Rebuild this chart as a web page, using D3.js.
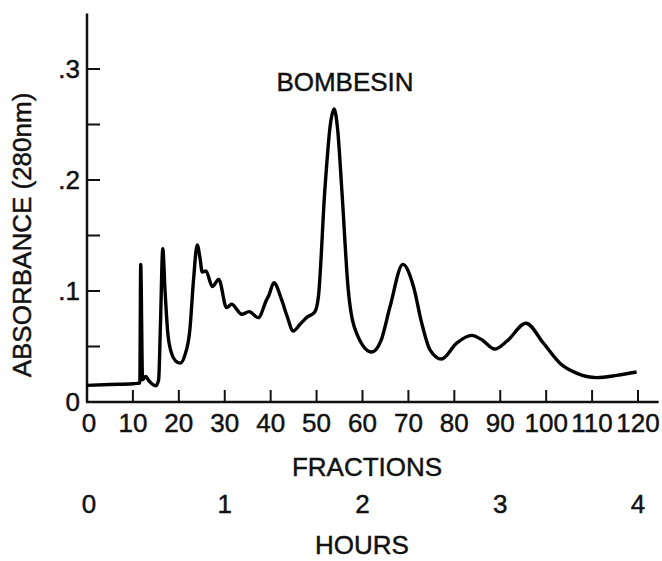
<!DOCTYPE html>
<html>
<head>
<meta charset="utf-8">
<script src="https://cdn.jsdelivr.net/npm/d3@7"></script>
<style>
  body { margin: 0; background: #fff; }
  svg text { font-family: "Liberation Sans", Arial, Helvetica, sans-serif; fill: #111; stroke: #111; stroke-width: 0.45px; }
</style>
</head>
<body>
<svg id="chart" width="662" height="561"></svg>
<script>
// fraction number vs absorbance at 280nm
var fractions = [0, 5, 10, 11.5, 11.7, 12.1, 12.8, 13.5, 15.0, 15.6, 16.0, 16.5, 17.0, 17.6, 18.4, 19.3, 20.3,
    21.3, 22.4, 23.2, 24.0, 24.6, 25.1, 25.9, 27.3, 28.7, 30.4, 31.5, 33.7, 35.3, 37.3, 39.1, 39.6,
    40.7, 42.4, 43.6, 44.9, 46.4, 47.8, 49.6, 50.4, 51.8, 53.0, 53.8, 54.6, 55.5, 56.9, 58.7, 62.0,
    64.0, 66.0, 68.8, 71.1, 72.9, 74.7, 77.2, 80.5, 83.8, 86.0, 88.8, 91.5, 95.6, 99.4, 103.0,
    106.6, 111.0, 115.4, 119.7];
var absorbance = [0.015, 0.0158, 0.0165, 0.017, 0.124, 0.02, 0.023, 0.019, 0.0147, 0.02, 0.07, 0.138,
    0.1, 0.062, 0.044, 0.037, 0.035, 0.042, 0.065, 0.11, 0.1415, 0.13, 0.117, 0.118, 0.104, 0.1105, 0.085,
    0.088, 0.079, 0.0814, 0.076, 0.092, 0.096, 0.1075, 0.092, 0.077, 0.064, 0.070, 0.076, 0.081,
    0.095, 0.191, 0.25, 0.264, 0.245, 0.191, 0.101, 0.062, 0.045, 0.055, 0.086, 0.124, 0.104, 0.071,
    0.047, 0.0387, 0.053, 0.060, 0.056, 0.0477, 0.055, 0.071, 0.053, 0.035, 0.026, 0.022, 0.024, 0.027];

var fractionTicks = [10, 20, 30, 40, 50, 60, 70, 80, 90, 100, 110, 120],
    fractionLabels = [0, 10, 20, 30, 40, 50, 60, 70, 80, 90, 100, 110, 120],
    absTicks = [0.05, 0.1, 0.15, 0.2, 0.25, 0.3],
    absLabels = [0, 0.1, 0.2, 0.3],
    hourLabels = [0, 1, 2, 3, 4],
    fractionsPerHour = 30;

var svg = d3.select("#chart");

var x = d3.scaleLinear().domain([0, 120]).range([87, 638]),
    y = d3.scaleLinear().domain([0, 0.35]).range([402, 13.5]);

var axisColor = "#111";

// axes lines
svg.append("line")
    .attr("x1", x(0)).attr("x2", x(0))
    .attr("y1", y(0.35)).attr("y2", y(0))
    .attr("stroke", axisColor).attr("stroke-width", 2.5);
svg.append("line")
    .attr("x1", x(0) - 1).attr("x2", x(124.5))
    .attr("y1", y(0)).attr("y2", y(0))
    .attr("stroke", axisColor).attr("stroke-width", 2.5);

// inward ticks
svg.selectAll("line.xt").data(fractionTicks).enter().append("line")
    .attr("class", "xt")
    .attr("x1", function(d) { return x(d); }).attr("x2", function(d) { return x(d); })
    .attr("y1", y(0)).attr("y2", y(0) - 12)
    .attr("stroke", axisColor).attr("stroke-width", 2);
svg.selectAll("line.yt").data(absTicks).enter().append("line")
    .attr("class", "yt")
    .attr("x1", x(0)).attr("x2", x(0) + 13)
    .attr("y1", function(d) { return y(d); }).attr("y2", function(d) { return y(d); })
    .attr("stroke", axisColor).attr("stroke-width", 2);

// tick labels
svg.selectAll("text.xl").data(fractionLabels).enter().append("text")
    .attr("class", "xl")
    .attr("x", function(d) { return x(d) + (d === 0 ? 2 : 0); })
    .attr("y", 432)
    .attr("text-anchor", "middle")
    .attr("font-size", 26)
    .text(function(d) { return d; });

svg.selectAll("text.yl").data(absLabels).enter().append("text")
    .attr("class", "yl")
    .attr("x", 80)
    .attr("y", function(d) { return y(d) + 9; })
    .attr("text-anchor", "end")
    .attr("font-size", 26)
    .text(function(d) { return d === 0 ? "0" : d3.format(".1f")(d).replace(/^0/, ""); });

svg.selectAll("text.hl").data(hourLabels).enter().append("text")
    .attr("class", "hl")
    .attr("x", function(d) { return x(d * fractionsPerHour) + (d === 0 ? 2 : 0); })
    .attr("y", 513)
    .attr("text-anchor", "middle")
    .attr("font-size", 26)
    .text(function(d) { return d; });

// titles
svg.append("text")
    .attr("x", 367).attr("y", 476)
    .attr("text-anchor", "middle")
    .attr("font-size", 26)
    .text("FRACTIONS");
svg.append("text")
    .attr("x", 362).attr("y", 554)
    .attr("text-anchor", "middle")
    .attr("font-size", 26)
    .text("HOURS");
svg.append("text")
    .attr("transform", "translate(31,235) rotate(-90)")
    .attr("text-anchor", "middle")
    .attr("font-size", 26)
    .text("ABSORBANCE (280nm)");
svg.append("text")
    .attr("x", 345).attr("y", 91)
    .attr("text-anchor", "middle")
    .attr("font-size", 26)
    .text("BOMBESIN");

// elution trace
var line = d3.line()
    .x(function(d) { return x(d[0]); })
    .y(function(d) { return y(d[1]); })
    .curve(d3.curveMonotoneX);

svg.append("path")
    .datum(d3.zip(fractions, absorbance))
    .attr("d", line)
    .attr("fill", "none")
    .attr("stroke", "#000")
    .attr("stroke-width", 3.4)
    .attr("stroke-linejoin", "round");
</script>
</body>
</html>
